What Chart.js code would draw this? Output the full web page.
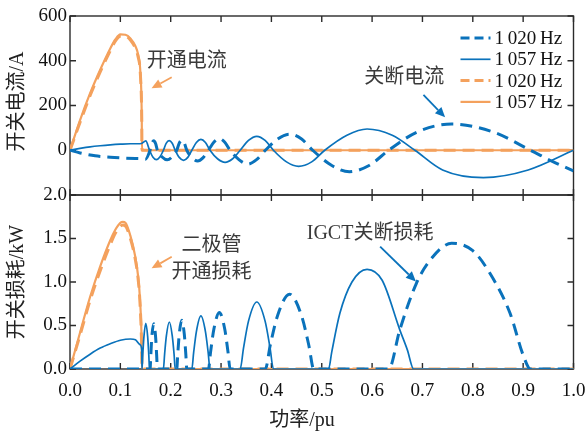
<!DOCTYPE html>
<html>
<head>
<meta charset="utf-8">
<script src="https://cdn.jsdelivr.net/npm/chart.js@4.4.1/dist/chart.umd.min.js"></script>
<style>
  html, body { margin: 0; padding: 0; background: #fff; }
  #wrap { width: 588px; height: 435px; position: relative; }
</style>
</head>
<body>
<div id="wrap"><canvas id="c"></canvas></div>
<script>
// ---- data ----
// top panel: switching current (A)
var igctCurX_1020 = [0, 0.02, 0.05, 0.08, 0.11, 0.13, 0.142, 0.15, 0.159, 0.1625, 0.1663, 0.17, 0.1736, 0.183, 0.193, 0.2025, 0.212, 0.217, 0.222, 0.227, 0.232, 0.243, 0.2535, 0.264, 0.275, 0.286, 0.2965, 0.307, 0.318, 0.3355, 0.353, 0.3705, 0.388, 0.412, 0.436, 0.46, 0.482, 0.52, 0.555, 0.594, 0.633, 0.69, 0.758, 0.84, 0.9145, 0.96, 1.0];
var igctCur_1020  = [0, -12, -25, -31, -35, -37, -38, -40, 0, 30, 42, 30, 0, -30, -43, -30, 0, 32, 45, 32, 0, -34, -48, -34, 0, 37, 52, 37, 0, -42, -62, -42, 0, 50, 72, 50, 0, -68, -96, -68, 0, 82, 117, 82, 0, -52, -92];

var igctCurX_1057 = [0, 0.02, 0.04, 0.06, 0.08, 0.10, 0.12, 0.135, 0.142, 0.1505, 0.158, 0.1645, 0.1715, 0.1785, 0.1855, 0.191, 0.197, 0.203, 0.209, 0.217, 0.2255, 0.234, 0.242, 0.251, 0.26, 0.269, 0.278, 0.293, 0.308, 0.323, 0.338, 0.3545, 0.371, 0.3875, 0.404, 0.43, 0.454, 0.48, 0.506, 0.55, 0.59, 0.64, 0.685, 0.74, 0.821, 0.91, 1.0];
var igctCur_1057  = [0, 8, 15, 20, 24, 27, 29, 29, 30, 42, 0, -30, -42, -30, 0, 31, 43, 31, 0, -32, -45, -32, 0, 35, 49, 35, 0, -38, -54, -38, 0, 44, 62, 44, 0, -52, -72, -52, 0, 67, 95, 67, 0, -88, -122, -88, 0];

var diodeCurX_1020 = [0, 0.02, 0.04, 0.06, 0.08, 0.09, 0.10, 0.11, 0.12, 0.13, 0.135, 0.14, 0.1425, 0.143, 1.0];
var diodeCur_1020  = [0, 125, 245, 350, 445, 488, 510, 510, 493, 455, 420, 330, 140, 0, 0];
var diodeCurX_1057 = [0, 0.02, 0.04, 0.06, 0.08, 0.09, 0.10, 0.11, 0.12, 0.13, 0.135, 0.14, 0.1425, 0.143, 1.0];
var diodeCur_1057  = [0, 135, 255, 360, 455, 495, 518, 516, 500, 465, 430, 340, 150, 0, 0];

// bottom panel: switching loss (kW)
var igctLossX_1020 = [0, 0.159, 0.1605, 0.1625, 0.1663, 0.17, 0.1721, 0.1736, 0.212, 0.214, 0.217, 0.222, 0.227, 0.23, 0.232, 0.275, 0.2793, 0.2858, 0.2965, 0.3073, 0.3137, 0.318, 0.388, 0.3976, 0.412, 0.436, 0.46, 0.4744, 0.484, 0.633, 0.655, 0.688, 0.715, 0.758, 0.80, 0.834, 0.874, 0.90, 0.9145, 1.0];
var igctLoss_1020  = [0, 0, 0.16, 0.37, 0.52, 0.37, 0.16, 0, 0, 0.17, 0.4, 0.56, 0.4, 0.17, 0, 0, 0.2, 0.46, 0.65, 0.46, 0.2, 0, 0, 0.27, 0.61, 0.86, 0.61, 0.27, 0, 0, 0.45, 0.985, 1.25, 1.445, 1.36, 1.1, 0.64, 0.16, 0, 0];

var igctLossX_1057 = [0, 0.02, 0.04, 0.06, 0.08, 0.10, 0.12, 0.13, 0.139, 0.1425, 0.143, 0.1445, 0.1468, 0.1505, 0.1543, 0.1565, 0.158, 0.1855, 0.1879, 0.1914, 0.1973, 0.2031, 0.2067, 0.209, 0.242, 0.2456, 0.251, 0.26, 0.269, 0.2744, 0.278, 0.338, 0.3446, 0.3545, 0.371, 0.3875, 0.3974, 0.404, 0.5135, 0.52, 0.536, 0.56, 0.59, 0.62, 0.655, 0.67, 0.6825, 1.0];
var igctLoss_1057  = [0, 0.09, 0.17, 0.24, 0.29, 0.33, 0.345, 0.335, 0.28, 0.22, 0, 0.16, 0.37, 0.525, 0.37, 0.16, 0, 0, 0.17, 0.38, 0.54, 0.38, 0.17, 0, 0, 0.19, 0.43, 0.61, 0.43, 0.19, 0, 0, 0.24, 0.55, 0.77, 0.55, 0.24, 0, 0, 0.2, 0.64, 1.0, 1.146, 1.02, 0.45, 0.22, 0, 0];

var diodeLossX_1020 = [0, 0.02, 0.04, 0.06, 0.08, 0.09, 0.10, 0.105, 0.11, 0.12, 0.13, 0.135, 0.139, 0.1425, 0.143, 1.0];
var diodeLoss_1020  = [0, 0.39, 0.79, 1.13, 1.43, 1.56, 1.64, 1.655, 1.645, 1.5, 1.25, 1.05, 0.76, 0.2, 0, 0];
var diodeLossX_1057 = [0, 0.02, 0.04, 0.06, 0.08, 0.09, 0.10, 0.105, 0.11, 0.12, 0.13, 0.135, 0.139, 0.1425, 0.143, 1.0];
var diodeLoss_1057  = [0, 0.42, 0.83, 1.18, 1.48, 1.6, 1.68, 1.69, 1.68, 1.53, 1.28, 1.08, 0.8, 0.25, 0, 0];

var xTicks = [0, 0.1, 0.2, 0.3, 0.4, 0.5, 0.6, 0.7, 0.8, 0.9, 1.0];
var legendLabels = ["1\u2009020\u2009Hz", "1\u2009057\u2009Hz", "1\u2009020\u2009Hz", "1\u2009057\u2009Hz"];

var BLUE = "#0a72bb", ORANGE = "#f4a15d";
var SERIF = '"Liberation Serif", "Times New Roman", serif';
var MIXED = '"Liberation Serif", "Noto Sans CJK SC", serif';

function pts(xs, ys) { return xs.map(function(x, i) { return { x: x, y: ys[i] }; }); }
function series(xs, ys, color, dashed, axis) {
    return {
        data: pts(xs, ys), yAxisID: axis,
        borderColor: color, backgroundColor: color,
        borderWidth: dashed ? 3 : (color === ORANGE ? 2.2 : 1.7),
        borderDash: dashed ? [12, 7] : [],
        pointRadius: 0, fill: false,
        cubicInterpolationMode: "monotone"
    };
}

var datasets = [
    series(igctCurX_1020, igctCur_1020, BLUE, true, "yTop"),
    series(igctCurX_1057, igctCur_1057, BLUE, false, "yTop"),
    series(diodeCurX_1020, diodeCur_1020, ORANGE, true, "yTop"),
    series(diodeCurX_1057, diodeCur_1057, ORANGE, false, "yTop"),
    series(igctLossX_1020, igctLoss_1020, BLUE, true, "yBot"),
    series(igctLossX_1057, igctLoss_1057, BLUE, false, "yBot"),
    series(diodeLossX_1020, diodeLoss_1020, ORANGE, true, "yBot"),
    series(diodeLossX_1057, diodeLoss_1057, ORANGE, false, "yBot")
];

// annotation text and arrows, in data units of each panel
var notes = [
    { axis: "yTop", x: 0.232, y: 394, lines: ["开通电流"] },
    { axis: "yTop", x: 0.664, y: 323, lines: ["关断电流"] },
    { axis: "yBot", x: 0.281, y: 1.26, lines: ["二极管", "开通损耗"] },
    { axis: "yBot", x: 0.596, y: 1.55, lines: ["IGCT关断损耗"] }
];
var arrows = [
    { axis: "yTop", color: ORANGE, from: [0.202, 326], to: [0.162, 277] },
    { axis: "yTop", color: BLUE, from: [0.702, 247], to: [0.745, 147] },
    { axis: "yBot", color: ORANGE, from: [0.202, 1.29], to: [0.162, 1.157] },
    { axis: "yBot", color: BLUE, from: [0.616, 1.406], to: [0.687, 1.006] }
];

var frame = {
    id: "frame",
    beforeDatasetsDraw: function(chart) {
        var ctx = chart.ctx, xs = chart.scales.x;
        ctx.save();
        ctx.strokeStyle = "#2b2b2b"; ctx.lineWidth = 1.4;
        ["yTop", "yBot"].forEach(function(id) {
            var ys = chart.scales[id];
            ctx.strokeRect(xs.left, ys.top, xs.right - xs.left, ys.bottom - ys.top);
            ctx.beginPath();
            xTicks.forEach(function(v) {
                var px = xs.getPixelForValue(v);
                ctx.moveTo(px, ys.top); ctx.lineTo(px, ys.top + 6);
                ctx.moveTo(px, ys.bottom); ctx.lineTo(px, ys.bottom - 6);
            });
            ys.ticks.forEach(function(t) {
                var py = ys.getPixelForValue(t.value);
                ctx.moveTo(xs.left, py); ctx.lineTo(xs.left + 6, py);
                ctx.moveTo(xs.right, py); ctx.lineTo(xs.right - 6, py);
            });
            ctx.stroke();
        });
        ctx.restore();
    },
    afterDatasetsDraw: function(chart) {
        var ctx = chart.ctx, xs = chart.scales.x, ca = chart.chartArea;
        ctx.save();
        // legend in the top panel
        var yt = chart.scales.yTop;
        ctx.font = "19px " + SERIF; ctx.textBaseline = "middle"; ctx.textAlign = "left";
        for (var i = 0; i < 4; i++) {
            var ds = chart.data.datasets[i], ly = yt.top + 22 + i * 21.3;
            ctx.strokeStyle = ds.borderColor; ctx.lineWidth = ds.borderWidth;
            ctx.setLineDash(ds.borderDash.length ? [9, 5] : []);
            ctx.beginPath(); ctx.moveTo(ca.right - 113, ly); ctx.lineTo(ca.right - 83, ly); ctx.stroke();
            ctx.setLineDash([]);
            ctx.fillStyle = "#111"; ctx.fillText(legendLabels[i], ca.right - 79, ly + 1);
        }
        // annotations
        ctx.font = "20px " + MIXED; ctx.textAlign = "center"; ctx.fillStyle = "#3a3a3a";
        notes.forEach(function(n) {
            var ys = chart.scales[n.axis];
            var px = xs.getPixelForValue(n.x), py = ys.getPixelForValue(n.y);
            n.lines.forEach(function(s, k) {
                ctx.fillText(s, px, py + (k - (n.lines.length - 1) / 2) * 27);
            });
        });
        arrows.forEach(function(a) {
            var ys = chart.scales[a.axis];
            var x0 = xs.getPixelForValue(a.from[0]), y0 = ys.getPixelForValue(a.from[1]);
            var x1 = xs.getPixelForValue(a.to[0]), y1 = ys.getPixelForValue(a.to[1]);
            var ang = Math.atan2(y1 - y0, x1 - x0), hl = 10, hw = 4.5;
            var bx = x1 - hl * Math.cos(ang), by = y1 - hl * Math.sin(ang);
            ctx.strokeStyle = a.color; ctx.fillStyle = a.color; ctx.lineWidth = 1.8;
            ctx.beginPath(); ctx.moveTo(x0, y0); ctx.lineTo(bx, by); ctx.stroke();
            ctx.beginPath(); ctx.moveTo(x1, y1);
            ctx.lineTo(bx + hw * Math.sin(ang), by - hw * Math.cos(ang));
            ctx.lineTo(bx - hw * Math.sin(ang), by + hw * Math.cos(ang));
            ctx.closePath(); ctx.fill();
        });
        // axis titles
        ctx.fillStyle = "#222"; ctx.textBaseline = "middle";
        ctx.fillText("功率/pu", 302, 421);
        [["yTop", "开关电流/A", -4], ["yBot", "开关损耗/kW", 0]].forEach(function(t) {
            var ys = chart.scales[t[0]];
            ctx.save();
            ctx.translate(18, (ys.top + ys.bottom) / 2 + t[2]);
            ctx.rotate(-Math.PI / 2);
            ctx.fillText(t[1], 0, 0);
            ctx.restore();
        });
        ctx.restore();
    }
};

var tickFont = { family: SERIF, size: 19 };

new Chart(document.getElementById("c"), {
    type: "line",
    data: { datasets: datasets },
    options: {
        animation: false,
        responsive: true,
        maintainAspectRatio: false,
        layout: { padding: { left: 0, right: 14.5, top: 16, bottom: 0 } },
        plugins: { legend: { display: false }, tooltip: { enabled: false } },
        scales: {
            x: {
                type: "linear", position: "bottom", min: 0, max: 1,
                afterBuildTicks: function(s) { s.ticks = xTicks.map(function(v) { return { value: v }; }); },
                ticks: { font: tickFont, color: "#111", padding: 11, maxRotation: 0, autoSkip: false,
                         callback: function(v) { return Number(v).toFixed(1); } },
                grid: { display: false, drawTicks: false },
                border: { display: false },
                afterFit: function(s) { s.height = 66; s.paddingLeft = 0; s.paddingRight = 0; }
            },
            yBot: {
                type: "linear", position: "left", stack: "panels", stackWeight: 174,
                min: 0, max: 2,
                ticks: { stepSize: 0.5, font: tickFont, color: "#111", padding: 3,
                         callback: function(v) { return Number(v).toFixed(1); } },
                grid: { display: false, drawTicks: false },
                border: { display: false },
                afterFit: function(s) { s.width = 70; }
            },
            yTop: {
                type: "linear", position: "left", stack: "panels", stackWeight: 179,
                min: -200, max: 600,
                ticks: { stepSize: 200, font: tickFont, color: "#111", padding: 3,
                         callback: function(v) { return v === -200 ? "" : String(v); } },
                grid: { display: false, drawTicks: false },
                border: { display: false },
                afterFit: function(s) { s.width = 70; }
            }
        }
    },
    plugins: [frame]
});
</script>
</body>
</html>
